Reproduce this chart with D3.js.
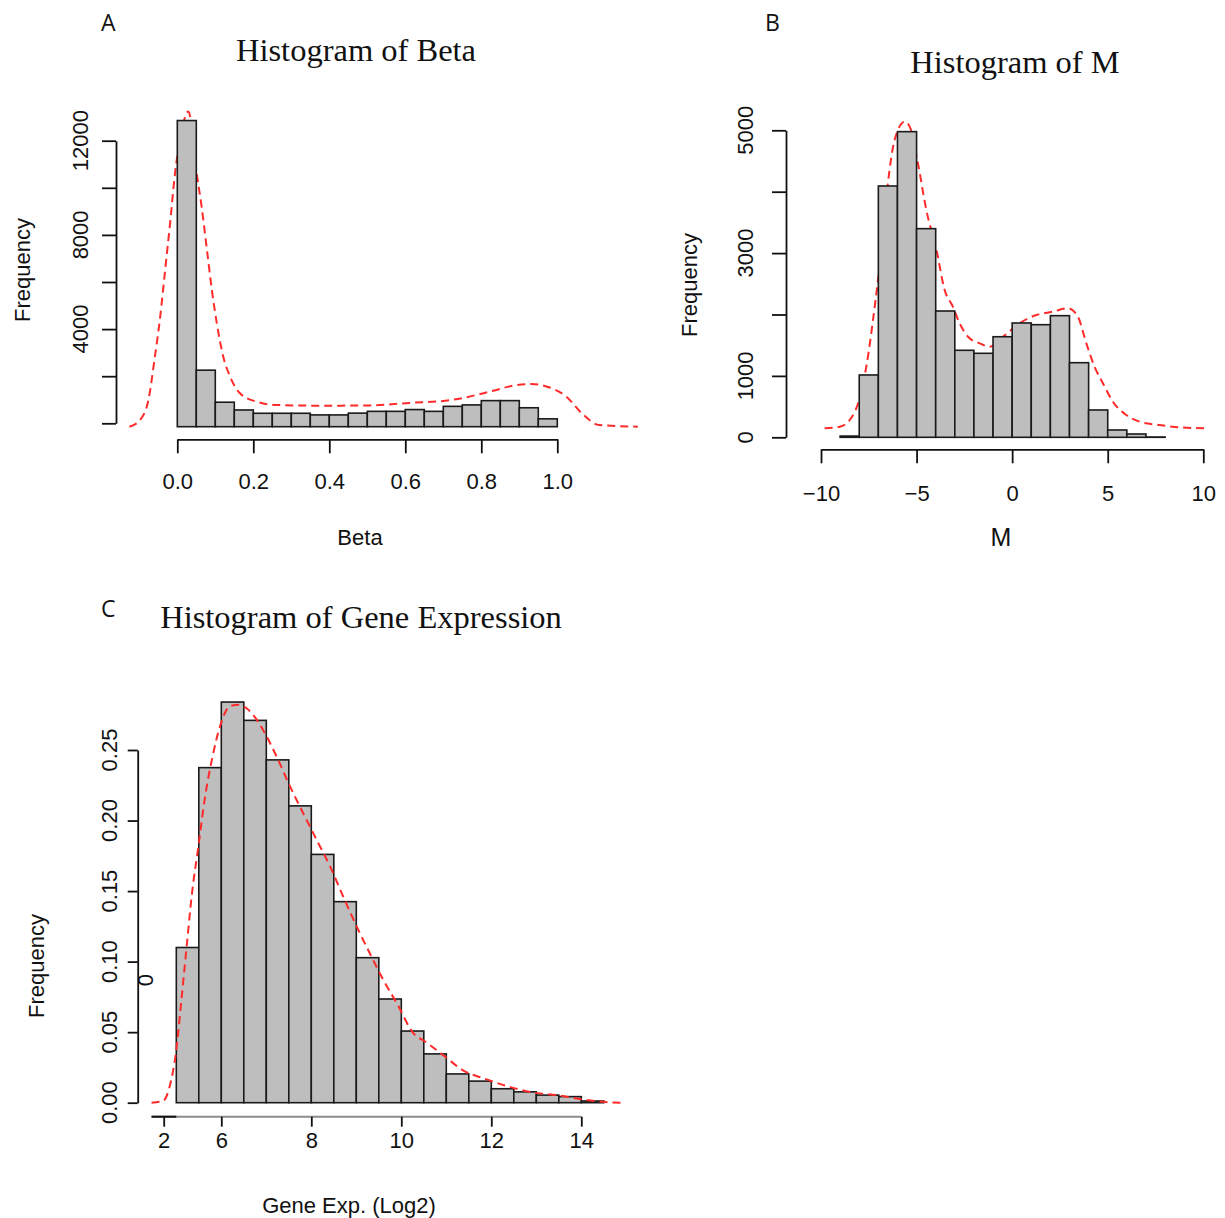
<!DOCTYPE html>
<html><head><meta charset="utf-8">
<script src="https://cdn.jsdelivr.net/npm/d3@7"></script>
<style>
body{margin:0;background:#fff}
svg text{font-family:"Liberation Sans",Arial,sans-serif;fill:#111}
.title{font-family:"Liberation Serif","Times New Roman",serif;font-size:32.5px}
.tick{font-size:22px}
.lab{font-size:22px}
.letter{font-family:"Open Sans","Noto Sans",sans-serif;font-size:23px}
</style></head><body>
<script>
// ---- Panel A: Beta ----
const betaBreaks = [0,0.05,0.1,0.15,0.2,0.25,0.3,0.35,0.4,0.45,0.5,0.55,0.6,0.65,0.7,0.75,0.8,0.85,0.9,0.95,1.0];
const betaCounts = [13000,2400,1040,710,570,570,570,500,500,576,652,652,728,652,864,925,1107,1107,804,334];
const betaDensX = [-0.126,-0.098,-0.076,-0.059,-0.046,-0.032,-0.019,-0.006,0.007,0.029,0.051,0.064,0.077,0.091,0.104,0.121,0.139,0.165,0.209,0.262,0.384,0.505,0.613,0.721,0.829,0.883,0.932,0.98,1.023,1.067,1.11,1.212];
const betaDensY = [0,285,1134,2972,4531,6654,8637,10760,12174,13380,10760,9342,7643,5805,4390,2972,2123,1418,1062,921,892,905,1011,1134,1516,1741,1817,1664,1287,527,72,0];
const betaXTicks = [0,0.2,0.4,0.6,0.8,1.0];
const betaYTicks = [0,2000,4000,6000,8000,10000,12000];
const betaYLabels = [4000,8000,12000];

// ---- Panel B: M ----
const mBreaks = [-9,-8,-7,-6,-5,-4,-3,-2,-1,0,1,2,3,4,5,6,7,8];
const mCounts = [20,1015,4093,4978,3398,2057,1417,1368,1638,1862,1834,1981,1215,445,119,54,5];
const mDensX = [-9.81,-9.02,-8.5,-8.06,-7.63,-7.19,-6.84,-6.5,-6.15,-5.62,-5.36,-4.93,-4.49,-3.96,-3.53,-3.1,-2.75,-2.31,-1.7,-1.18,-0.48,0.39,1.27,2.13,2.92,3.44,3.88,4.31,4.75,5.27,5.97,6.67,7.71,8.76,10.24];
const mDensY = [147,173,282,554,1150,2127,3050,4137,4842,5140,5059,4463,3702,3050,2399,2127,1857,1638,1531,1476,1638,1857,1992,2046,2101,1964,1531,1150,879,580,363,254,200,163,147];
const mXTicks = [-10,-5,0,5,10];
const mYTicks = [0,1000,2000,3000,4000,5000];
const mYLabels = [0,1000,3000,5000];

// ---- Panel C: Gene expression ----
const gBreaks = [5,5.5,6,6.5,7,7.5,8,8.5,9,9.5,10,10.5,11,11.5,12,12.5,13,13.5,14,14.5];
const gFreq = [0.110,0.2375,0.284,0.271,0.243,0.2104,0.176,0.1425,0.1028,0.0735,0.0508,0.0346,0.0204,0.0153,0.0099,0.0077,0.0054,0.0043,0.0012];
const gDensX = [4.45,4.71,4.86,4.99,5.12,5.23,5.34,5.49,5.64,5.79,5.97,6.19,6.38,6.56,6.79,7.01,7.23,7.53,7.82,8.12,8.42,8.71,9.01,9.3,9.6,9.9,10.27,10.56,10.97,11.38,11.84,12.39,12.93,13.48,14.03,14.48,14.94];
const gDensY = [0,0.0014,0.0125,0.035,0.075,0.1106,0.146,0.1815,0.217,0.243,0.2666,0.281,0.282,0.2796,0.2713,0.2595,0.2453,0.224,0.2052,0.1862,0.1673,0.146,0.1248,0.1059,0.087,0.0705,0.0492,0.0427,0.0327,0.0228,0.0171,0.0114,0.0072,0.0052,0.0023,0.0006,0];
const gXTickPos = [4.72,6,8,10,12,14];
const gXTickLabels = ["2","6","8","10","12","14"];
const gYTicks = [0,0.05,0.10,0.15,0.20,0.25];

const svg = d3.select("body").append("svg").attr("width",1225).attr("height",1218);
svg.append("rect").attr("width",1225).attr("height",1218).attr("fill","#fff");

const BAR_FILL="#bebebe", BAR_STROKE="#1a1a1a", DENS="#ff2a2a";

function styleAxis(g, w){
  g.selectAll("path.domain").attr("stroke","#111").attr("stroke-width",w||1.8);
  g.selectAll(".tick line").attr("stroke","#111").attr("stroke-width",w||1.8);
}

function drawBars(g, breaks, vals, x, y, dy){
  g.append("g").attr("transform",`translate(0,${dy||0})`).selectAll("rect").data(vals).join("rect")
    .attr("x",(d,i)=>x(breaks[i])).attr("width",(d,i)=>x(breaks[i+1])-x(breaks[i]))
    .attr("y",d=>y(d)).attr("height",d=>y(0)-y(d))
    .attr("fill",BAR_FILL).attr("stroke",BAR_STROKE).attr("stroke-width",1.6);
}
function drawDens(g, xs, ys, x, y, dy){
  const pts = xs.map((v,i)=>[v,ys[i]]);
  g.append("path").datum(pts).attr("transform",`translate(0,${dy||0})`)
    .attr("d",d3.line().x(d=>x(d[0])).y(d=>y(d[1])).curve(d3.curveMonotoneX))
    .attr("fill","none").attr("stroke",DENS).attr("stroke-width",2).attr("stroke-dasharray","8,5");
}
function rotLabel(text, cx, cy, cls){
  svg.append("text").attr("class",cls).attr("transform",`translate(${cx},${cy}) rotate(-90)`)
    .attr("text-anchor","middle").attr("dy","0.35em").text(text);
}

// ===== Panel A =====
{
  const x = d3.scaleLinear().domain([0,1]).range([177.3,557.3]);
  const y = d3.scaleLinear().domain([0,12000]).range([423.3,140.7]);
  const g = svg.append("g");
  drawDens(g, betaDensX, betaDensY, x, y, 3.4);
  drawBars(g, betaBreaks, betaCounts, x, y, 3.4);
  const ax = svg.append("g").attr("transform","translate(0,439.3)")
    .call(d3.axisBottom(x).tickValues(betaXTicks).tickSize(14).tickSizeOuter(0).tickFormat(d3.format(".1f")));
  styleAxis(ax);
  ax.selectAll(".tick text").attr("class","tick").attr("y",42).attr("dy","0.35em").style("font-size","22px");
  const ay = svg.append("g").attr("transform","translate(116,0)")
    .call(d3.axisLeft(y).tickValues(betaYTicks).tickSize(14).tickSizeOuter(0).tickFormat(""));
  styleAxis(ay);
  betaYLabels.forEach(v=>rotLabel(String(v),80,y(v),"tick"));
  svg.append("text").attr("class","title").attr("x",356).attr("y",61).attr("text-anchor","middle").text("Histogram of Beta");
  svg.append("text").attr("class","lab").attr("x",360).attr("y",545).attr("text-anchor","middle").text("Beta");
  rotLabel("Frequency",22,270,"lab");
  svg.append("text").attr("class","letter").attr("x",101).attr("y",31).text("A");
}

// ===== Panel B =====
{
  const x = d3.scaleLinear().domain([-10,10]).range([821,1203.3]);
  const y = d3.scaleLinear().domain([0,5000]).range([437.3,130.3]);
  const g = svg.append("g");
  drawDens(g, mDensX, mDensY, x, y, 0);
  drawBars(g, mBreaks, mCounts, x, y, 0);
  const ax = svg.append("g").attr("transform","translate(0,449.3)")
    .call(d3.axisBottom(x).tickValues(mXTicks).tickSize(14).tickSizeOuter(0).tickFormat(d=>d<0?"\u2212"+Math.abs(d):String(d)));
  styleAxis(ax);
  ax.selectAll(".tick text").attr("class","tick").attr("y",44).attr("dy","0.35em").style("font-size","22px");
  const ay = svg.append("g").attr("transform","translate(786,0)")
    .call(d3.axisLeft(y).tickValues(mYTicks).tickSize(14).tickSizeOuter(0).tickFormat(""));
  styleAxis(ay);
  mYLabels.forEach(v=>rotLabel(String(v),745,y(v),"tick"));
  svg.append("text").attr("class","title").attr("x",1015).attr("y",73).attr("text-anchor","middle").text("Histogram of M");
  svg.append("text").attr("class","lab").attr("x",1001).attr("y",546).attr("text-anchor","middle").style("font-size","25px").text("M");
  rotLabel("Frequency",689,285,"lab");
  svg.append("text").attr("class","letter").attr("x",765).attr("y",31).text("B");
}

// ===== Panel C =====
{
  const x = d3.scaleLinear().domain([6,14]).range([221.3,581.3]);
  const y = d3.scaleLinear().domain([0,0.25]).range([1102.7,750]);
  const g = svg.append("g");
  drawBars(g, gBreaks, gFreq, x, y, 0);
  drawDens(g, gDensX, gDensY, x, y, 0);
  // bottom axis line (grey rug-like line with dark start)
  svg.append("line").attr("x1",x(4.45)).attr("x2",x(14)).attr("y1",1116.7).attr("y2",1116.7)
    .attr("stroke","#8c8c8c").attr("stroke-width",2);
  svg.append("line").attr("x1",x(4.45)).attr("x2",x(5.0)).attr("y1",1116.7).attr("y2",1116.7)
    .attr("stroke","#111").attr("stroke-width",2);
  const ax = svg.append("g").attr("transform","translate(0,1116.7)")
    .call(d3.axisBottom(x).tickValues(gXTickPos).tickSize(10).tickSizeOuter(0).tickFormat((d,i)=>gXTickLabels[i]));
  ax.select("path.domain").remove();
  styleAxis(ax);
  ax.selectAll(".tick text").attr("class","tick").attr("y",24).attr("dy","0.35em").style("font-size","22px");
  const ay = svg.append("g").attr("transform","translate(137.7,0)")
    .call(d3.axisLeft(y).tickValues(gYTicks).tickSize(10).tickSizeOuter(0).tickFormat(""));
  styleAxis(ay);
  gYTicks.forEach(v=>rotLabel(d3.format(".2f")(v),109,y(v),"tick"));
  rotLabel("0",145,980,"tick");
  svg.append("text").attr("class","title").attr("x",361).attr("y",628).attr("text-anchor","middle").text("Histogram of Gene Expression");
  svg.append("text").attr("class","lab").attr("x",349).attr("y",1213).attr("text-anchor","middle").text("Gene Exp. (Log2)");
  rotLabel("Frequency",36,966,"lab");
  svg.append("text").attr("class","letter").attr("x",101).attr("y",617).text("C");
}
</script>
</body></html>
